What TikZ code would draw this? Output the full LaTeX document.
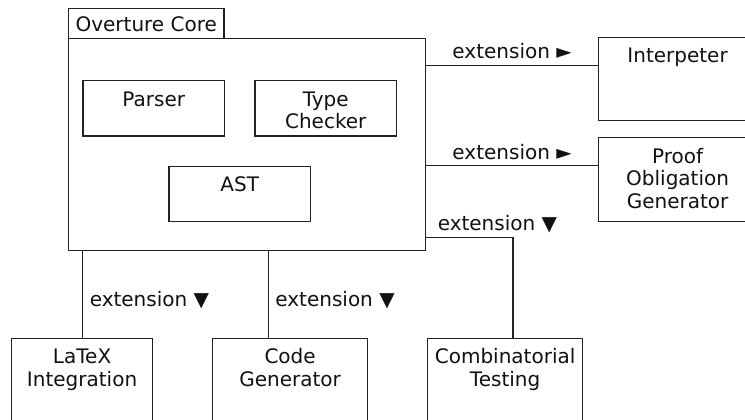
\documentclass[tikz,border=0pt]{standalone}
\usepackage{fontspec}
\setmainfont{DejaVu Sans}
\definecolor{lc}{HTML}{222222}
\definecolor{tc}{HTML}{111111}
\begin{document}
\begin{tikzpicture}[x=1pt,y=-1pt,
  box/.style={draw=lc, line width=1.2pt, rectangle, inner sep=0pt, anchor=north west},
  txt/.style={font=\fontsize{20}{22.4}\selectfont, align=center, inner sep=0pt, anchor=north, text=tc},
  lbl/.style={font=\fontsize{20}{22.4}\selectfont, inner sep=0pt, text=tc},
  conn/.style={draw=lc, line width=1.2pt}]
\useasboundingbox (0,0) rectangle (745,420);

% core package
\node[box, minimum width=155.3pt, minimum height=30pt] (tab) at (68,8) {};
\node[box, minimum width=357pt, minimum height=212pt] (core) at (68,38) {};
\node[txt, yshift=-8pt] (tabt) at (tab.north) {\rule{0pt}{15pt}Overture Core};

% inner boxes
\node[box, minimum width=141.7pt, minimum height=55.3pt] (parser) at (82.3,80) {};
\node[txt, yshift=-11pt] (parsert) at (parser.north) {\rule{0pt}{15pt}Parser};
\node[box, minimum width=141.7pt, minimum height=55.3pt] (tc) at (254.3,80) {};
\node[txt, yshift=-11pt] (tct) at (tc.north) {\rule{0pt}{15pt}Type\\Checker};
\node[box, minimum width=141.7pt, minimum height=55.3pt] (ast) at (168.3,165.7) {};
\node[txt, yshift=-11pt] (astt) at (ast.north) {\rule{0pt}{15pt}AST};

% right boxes
\node[box, minimum width=158pt, minimum height=83pt] (interp) at (598,37) {};
\node[txt, yshift=-10.5pt] (interpt) at (interp.north) {\rule{0pt}{15pt}Interpeter};
\node[box, minimum width=158pt, minimum height=84pt] (pog) at (598,137) {};
\node[txt, yshift=-11pt] (pogt) at (pog.north) {\rule{0pt}{15pt}Proof\\Obligation\\Generator};

% bottom boxes
\node[box, minimum width=141pt, minimum height=90pt] (latex) at (11,338) {};
\node[txt, yshift=-10.5pt] (latext) at (latex.north) {\rule{0pt}{15pt}LaTeX\\Integration};
\node[box, minimum width=155pt, minimum height=90pt] (cg) at (212,338) {};
\node[txt, yshift=-10.5pt] (cgt) at (cg.north) {\rule{0pt}{15pt}Code\\Generator};
\node[box, minimum width=155pt, minimum height=90pt] (comb) at (427,338) {};
\node[txt, yshift=-10.5pt] (combt) at (comb.north) {\rule{0pt}{15pt}Combinatorial\\Testing};

% connectors
\path (core.north east) ++(0,27.7) coordinate (e1);
\draw[conn] (e1) -- node[lbl, anchor=base, yshift=6.7pt] (l1) {extension ►} (e1 -| interp.west);
\path (core.north east) ++(0,127.7) coordinate (e2);
\draw[conn] (e2) -- node[lbl, anchor=base, yshift=6.7pt] (l2) {extension ►} (e2 -| pog.west);
\path (core.north east) ++(0,199.7) coordinate (e3);
\path (comb.north west) ++(86,0) coordinate (c3);
\draw[conn] (e3) -- node[lbl, pos=0, anchor=base west, xshift=11pt, yshift=7pt] (l3) {extension ▼} (e3 -| c3) -- (c3);

\path (core.south west) ++(14.7,0) coordinate (b1);
\draw[conn] (b1) -- node[lbl, pos=0.636, anchor=base west, xshift=6.5pt] (l4) {extension ▼} (b1 |- latex.north);
\path (cg.north west) ++(56.3,0) coordinate (c5);
\draw[conn] (c5 |- core.south) -- node[lbl, pos=0.636, anchor=base west, xshift=6.5pt] (l5) {extension ▼} (c5);
\end{tikzpicture}
\end{document}
